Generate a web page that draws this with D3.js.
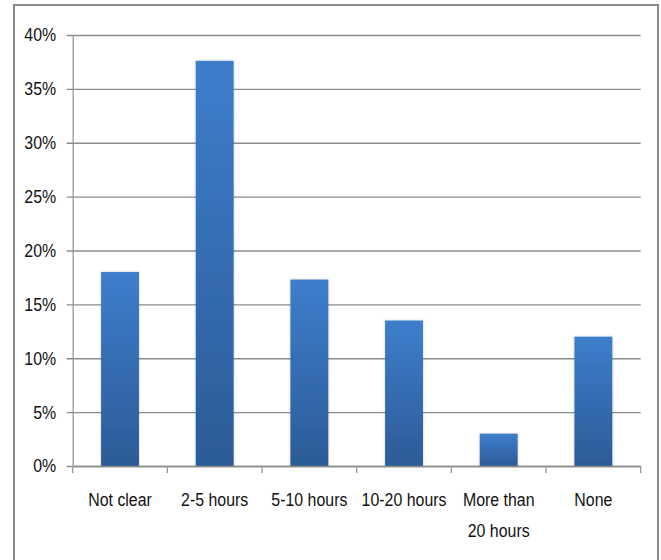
<!DOCTYPE html>
<html>
<head>
<meta charset="utf-8">
<script src="https://cdn.jsdelivr.net/npm/d3@7"></script>
<style>
  html, body { margin: 0; padding: 0; background: #fff; }
  svg text { font-family: "Liberation Sans", Arial, sans-serif; fill: #111; }
</style>
</head>
<body>
<svg id="chart" width="661" height="560"></svg>
<script>
// Share of respondents by time category
const categories = ["Not clear", "2-5 hours", "5-10 hours", "10-20 hours", "More than\n20 hours", "None"];
const shares = [18, 37.6, 17.3, 13.5, 3, 12];
const yTicks = [0, 5, 10, 15, 20, 25, 30, 35, 40];

const svg = d3.select("#chart");
const plotLeft = 72.7, plotRight = 640.7, plotTop = 35, plotBottom = 466;
const narrow = 0.86; // horizontal squeeze for a condensed text look

// Outer chart frame
svg.append("rect")
  .attr("x", 14).attr("y", 5)
  .attr("width", 644).attr("height", 570)
  .attr("fill", "none").attr("stroke", "#8a8a8a").attr("stroke-width", 2);

const x = d3.scaleBand().domain(categories).range([plotLeft, plotRight])
  .paddingInner(0.6).paddingOuter(0.3);
const y = d3.scaleLinear().domain([0, 40]).range([plotBottom, plotTop]);

// Gradient fill for bars
const defs = svg.append("defs");
const grad = defs.append("linearGradient").attr("id", "barGrad")
  .attr("x1", 0).attr("y1", 0).attr("x2", 0).attr("y2", 1);
grad.append("stop").attr("offset", "0%").attr("stop-color", "#3d7ecc");
grad.append("stop").attr("offset", "100%").attr("stop-color", "#2c5b97");
const shadow = defs.append("filter").attr("id", "barShadow")
  .attr("x", "-20%").attr("y", "-5%").attr("width", "140%").attr("height", "110%");
shadow.append("feDropShadow").attr("dx", 0).attr("dy", 0)
  .attr("stdDeviation", 1.2).attr("flood-color", "#000").attr("flood-opacity", 0.25);

// Horizontal gridlines with y-axis ticks
const yAxis = d3.axisLeft(y).tickValues(yTicks)
  .tickSize(-(plotRight - plotLeft)).tickSizeOuter(0)
  .tickFormat(d => d + "%");
const gy = svg.append("g").attr("transform", `translate(${plotLeft},0)`).call(yAxis);
gy.select(".domain").attr("stroke", "#9a9a9a").attr("stroke-width", 1.3);
gy.selectAll(".tick line").attr("stroke", "#8c8c8c").attr("stroke-width", 1.4)
  .attr("x1", -6);
gy.selectAll(".tick text")
  .attr("x", 0)
  .attr("transform", `translate(-16.5,0) scale(${narrow},1)`)
  .style("font-size", "18.5px").attr("fill", "#111");

// Bars
svg.append("g").selectAll("rect").data(shares).join("rect")
  .attr("x", (d, i) => x(categories[i]))
  .attr("y", d => y(d))
  .attr("width", x.bandwidth())
  .attr("height", d => y(0) - y(d))
  .attr("fill", "url(#barGrad)")
  .attr("filter", "url(#barShadow)");

// Category axis
const xAxis = d3.axisBottom(x).tickSize(0).tickFormat("");
const gx = svg.append("g").attr("transform", `translate(0,${plotBottom})`).call(xAxis);
gx.select(".domain").attr("stroke", "#8c8c8c").attr("stroke-width", 1.4);
const step = x.step();
gx.selectAll("line.sep").data(d3.range(categories.length + 1)).join("line")
  .attr("class", "sep")
  .attr("x1", i => plotLeft + i * step).attr("x2", i => plotLeft + i * step)
  .attr("y1", 0).attr("y2", 7)
  .attr("stroke", "#9a9a9a").attr("stroke-width", 1.3);

// Category labels (multi-line where needed)
const labels = svg.append("g");
categories.forEach(c => {
  const cx = x(c) + x.bandwidth() / 2;
  const t = labels.append("text")
    .attr("transform", `translate(${cx},506) scale(${narrow},1)`)
    .attr("text-anchor", "middle")
    .style("font-size", "18.5px");
  c.split("\n").forEach((line, j) => {
    t.append("tspan").attr("x", 0)
      .attr("dy", j === 0 ? 0 : 31).text(line);
  });
});
</script>
</body>
</html>
